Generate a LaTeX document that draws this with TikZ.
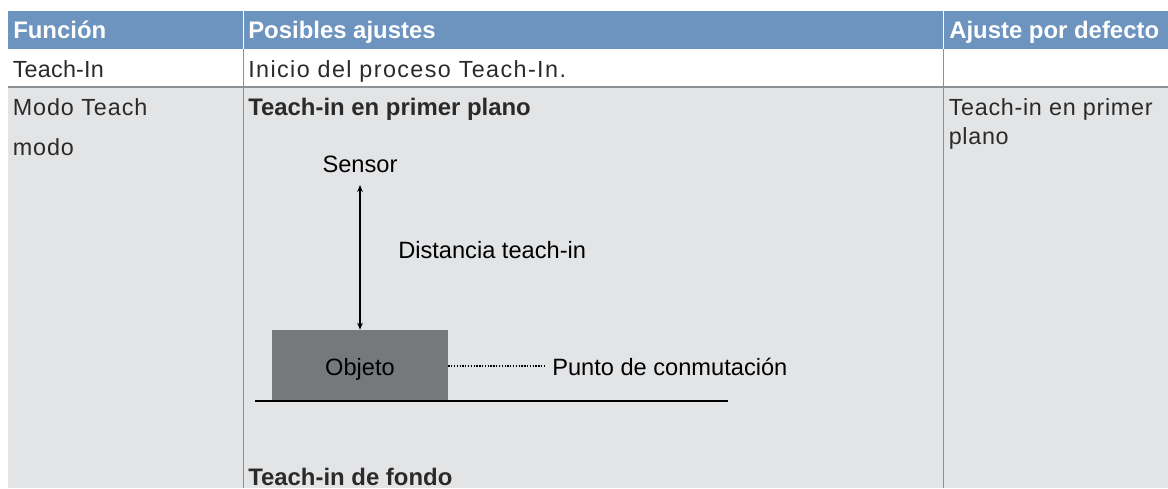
\documentclass[tikz,border=0pt]{standalone}
\usepackage{fontspec}
\setmainfont{Liberation Sans}
\usetikzlibrary{arrows, arrows.meta}
\definecolor{headblue}{HTML}{6D93BF}
\definecolor{rowgray}{HTML}{E3E4E6}
\definecolor{rulegray}{HTML}{8C9196}
\definecolor{objgray}{HTML}{76797B}
\definecolor{celltext}{HTML}{2B2A29}
\tikzset{
  headtext/.style={anchor=base west,inner sep=0pt,text=white,font=\fontsize{17pt}{20pt}\selectfont\bfseries},
  celltxt/.style={anchor=base west,inner sep=0pt,text=celltext,font=\addfontfeatures{LetterSpace=#1}\fontsize{16.6pt}{20pt}\selectfont},
  celltxt/.default=4,
  boldtxt/.style={anchor=base west,inner sep=0pt,text=celltext,font=\fontsize{17pt}{20pt}\selectfont\bfseries},
  sketchtxt/.style={anchor=base,inner sep=0pt,text=black,font=\fontsize{16.8pt}{20pt}\selectfont},
}
\begin{document}
\begin{tikzpicture}[x=0.025cm,y=-0.025cm]
\useasboundingbox (0,0) rectangle (1168,488);

% table background
\fill[headblue] (8,11) rectangle (1168,49);
\fill[rowgray] (8,87) rectangle (1168,488);
\draw[white,line width=0.9pt] (243.5,11) -- (243.5,49);
\draw[white,line width=0.9pt] (943.5,11) -- (943.5,49);
\draw[rulegray,line width=0.9pt] (243.5,49) -- (243.5,488);
\draw[rulegray,line width=0.9pt] (943.5,49) -- (943.5,488);
\draw[rulegray,line width=0.9pt] (8,87) -- (1168,87);

% table text
\node[headtext] (funcion) at (13,38) {Función};
\node[headtext] (posibles) at (248,38) {Posibles ajustes};
\node[headtext] (defecto) at (949,38) {Ajuste por defecto};

\node[celltxt=1] (teachin) at (12.5,77) {Teach-In};
\node[celltxt=6] (inicio) at (248,77) {Inicio del proceso Teach-In.};
\node[celltxt] (modo1) at (12.5,115) {Modo Teach};
\node[celltxt] (modo2) at (12.5,155) {modo};
\node[celltxt=3] (primer1) at (948.5,115) {Teach-in en primer};
\node[celltxt=3] (primer2) at (948.5,144) {plano};

\node[boldtxt] (plano) at (248,115) {Teach-in en primer plano};
\node[boldtxt] (fondo) at (248,485) {Teach-in de fondo};

% sketch
\node[sketchtxt] (sensor) at (360,172) {Sensor};
\node[sketchtxt,anchor=base west] (distancia) at (398,258.5) {Distancia teach-in};
\node[fill=objgray,inner sep=0pt,minimum width=4.4cm,minimum height=1.75cm] (objeto) at (360,365) {};
\node[sketchtxt] (objetotxt) at (360,375) {Objeto};
\node[sketchtxt,anchor=base west] (punto) at (552,375) {Punto de conmutación};
\coordinate (arriba) at (360,185);
\coordinate (punteado) at (544,366);
\coordinate (suelo1) at (255,401);
\coordinate (suelo2) at (728,401);

\draw[{Stealth[length=5pt,width=4pt]}-{Stealth[length=5pt,width=4pt]},line width=1.4pt] (arriba) -- (objeto.north);
\draw[line width=1.1pt,dash pattern=on 0.9pt off 1.1pt] (objeto.east |- punteado) -- (punteado);
\draw[line width=1.6pt] (suelo1) -- (suelo2);

\end{tikzpicture}
\end{document}
